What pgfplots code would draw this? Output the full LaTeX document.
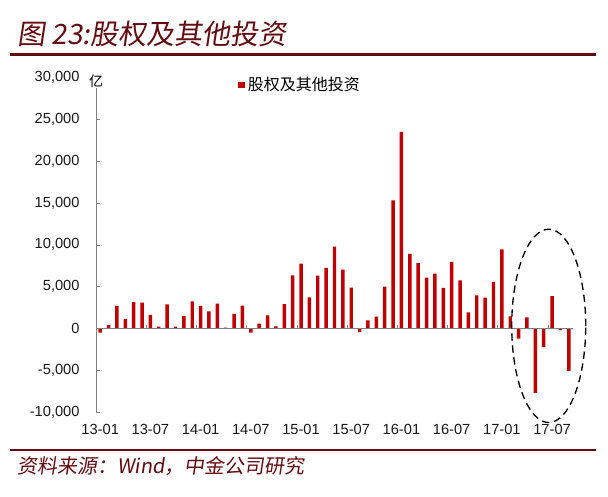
\documentclass[border=0pt]{standalone}
\usepackage{fontspec}
\setmainfont{Liberation Sans}
\newfontfamily\cjk{Noto Sans CJK SC}
\newfontfamily\cjkit[FakeSlant=0.15]{Noto Sans CJK SC}
\usepackage{pgfplots}
\pgfplotsset{compat=1.18}
\definecolor{barred}{RGB}{192,0,0}
\definecolor{darkred}{RGB}{100,12,16}
\definecolor{axisgray}{RGB}{128,128,128}

\begin{document}
\begin{tikzpicture}
\path (0,0) rectangle (456pt,-372.75pt);
% title and rules
\node[anchor=west, text=darkred, font=\cjkit\fontsize{21}{23}\selectfont, inner sep=0pt] at (13pt,-25.5pt) {图 23:股权及其他投资};
\draw[darkred, line width=2pt] (7.5pt,-40.9pt) -- (447pt,-40.9pt);
\draw[darkred, line width=1.6pt] (7.5pt,-337.5pt) -- (447pt,-337.5pt);
\node[anchor=west, text=darkred, font=\cjkit\fontsize{15}{17}\selectfont, inner sep=0pt] at (12.75pt,-349.5pt) {资料来源：Wind，中金公司研究};

\begin{axis}[
  at={(72pt,-309pt)}, anchor=south west,
  scale only axis, width=357.75pt, height=250.9pt,
  clip=false,
  ybar, bar width=2.6pt,
  xmin=-0.5, xmax=56.5, ymin=-10000, ymax=30000,
  axis y line*=left, axis x line*=bottom,
  x axis line style={draw=none},
  y axis line style={axisgray},
  ytick={-10000,-5000,...,30000},
  ytick style={axisgray},
  tick align=inside,
  major tick length=3pt,
  xtick={0,6,...,54},
  xticklabels={13-01,13-07,14-01,14-07,15-01,15-07,16-01,16-07,17-01,17-07},
  xtick style={draw=none},
  tick label style={font=\fontsize{11}{13}\selectfont, text=black!90},
  yticklabel style={xshift=-8.8pt},
  xticklabel style={yshift=-6pt},
  scaled y ticks=false,
  /pgf/number format/.cd, 1000 sep={,}, assume math mode=true,
  /pgfplots/.cd,
  legend style={at={(0.2977,0.9776)}, anchor=west, draw=none, fill=none,
    inner sep=0pt, font=\cjk\fontsize{12}{14}\selectfont},
  legend cell align=left,
  legend image code/.code={\fill[barred] (0pt,-2.6pt) rectangle (5.2pt,2.6pt);},
]
\addplot[fill=barred, draw=none] coordinates {
  (0,-500) (1,400) (2,2700) (3,1100) (4,3150) (5,3070) (6,1600) (7,200)
  (8,2880) (9,200) (10,1480) (11,3230) (12,2680) (13,2040) (14,2950) (15,100)
  (16,1720) (17,2710) (18,-520) (19,560) (20,1560) (21,240) (22,2900) (23,6350)
  (24,7750) (25,3710) (26,6310) (27,7230) (28,9780) (29,7030) (30,4870) (31,-440)
  (32,960) (33,1400) (34,4990) (35,15290) (36,23500) (37,8900) (38,7790) (39,6070)
  (40,6550) (41,4830) (42,7950) (43,5750) (44,1920) (45,3950) (46,3670) (47,5550)
  (48,9460) (49,1440) (50,-1240) (51,1320) (52,-7700) (53,-2240) (54,3870) (55,-200)
  (56,-5070)
};
\addlegendentry{股权及其他投资}
\draw[axisgray] (axis cs:-0.5,0) -- (axis cs:56.5,0);
\pgfplotsinvokeforeach{5.5,11.5,17.5,23.5,29.5,35.5,41.5,47.5,53.5}{
  \draw[axisgray] (axis cs:#1,0) -- ++(0pt,2.2pt);
}
\node[font=\cjk\fontsize{10.5}{12}\selectfont, fill=white, inner sep=0.5pt, yshift=-2.5pt] at (rel axis cs:0,1) {亿};
\draw[black, line width=1pt, dash pattern=on 5.5pt off 3.5pt] (axis cs:53.6,300) ellipse [x radius=27.75pt, y radius=72.5pt];
\end{axis}
\end{tikzpicture}
\end{document}
